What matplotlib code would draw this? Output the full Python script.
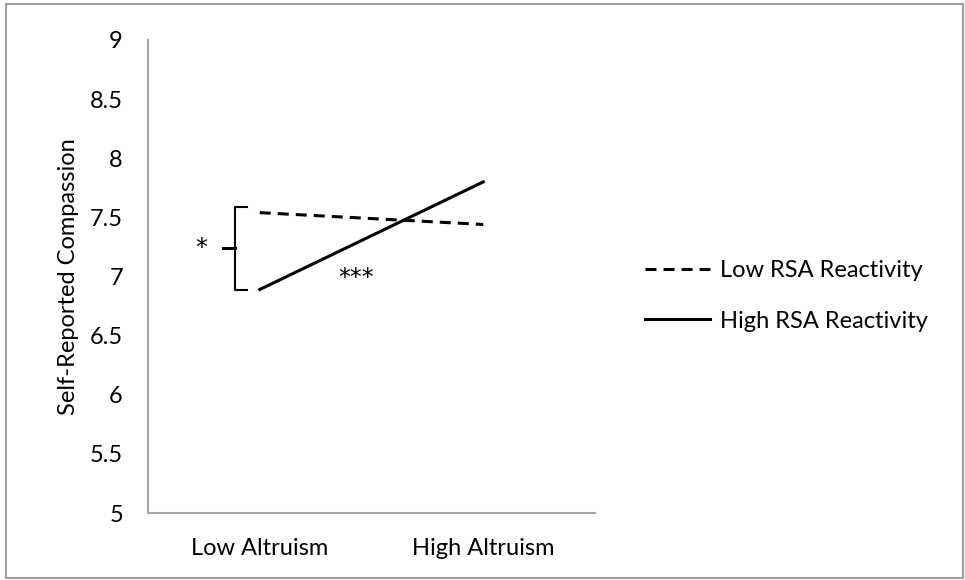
import matplotlib
matplotlib.use("Agg")
import matplotlib.pyplot as plt
from matplotlib.patches import Rectangle

# ── data ──────────────────────────────────────────────────────────────────
categories = ["Low Altruism", "High Altruism"]
low_rsa = [7.54, 7.44]
high_rsa = [6.89, 7.80]
series_names = ["Low RSA Reactivity", "High RSA Reactivity"]
y_ticks = [5, 5.5, 6, 6.5, 7, 7.5, 8, 8.5, 9]
y_tick_labels = ["5", "5.5", "6", "6.5", "7", "7.5", "8", "8.5", "9"]

plt.rcParams["font.family"] = ["Lato", "DejaVu Sans"]
FS = 17
SPINE = "#A6A6A6"

fig = plt.figure(figsize=(9.65, 5.8), dpi=100)
ax = fig.add_axes([148 / 965, 1 - 513 / 580, (595 - 148) / 965, (513 - 40) / 580])

x = list(range(len(categories)))
ax.plot(x, low_rsa, color="black", lw=2.2, dashes=(3.6, 2.3), label=series_names[0])
ax.plot(x, high_rsa, color="black", lw=2.2, label=series_names[1])

ax.set_xlim(-0.5, len(categories) - 0.5)
ax.set_ylim(5, 9)
ax.set_xticks(x)
ax.set_xticklabels(categories, fontsize=FS)
ax.set_yticks(y_ticks)
ax.set_yticklabels(y_tick_labels, fontsize=FS)
ax.tick_params(axis="both", length=0)
ax.tick_params(axis="y", pad=18)
ax.tick_params(axis="x", pad=18)
ax.set_ylabel("Self-Reported Compassion", fontsize=FS, labelpad=8)

for side in ("top", "right"):
    ax.spines[side].set_visible(False)
for side in ("left", "bottom"):
    ax.spines[side].set_color(SPINE)
    ax.spines[side].set_linewidth(1.5)

# ── significance bracket at low altruism ─────────────────────────────────
top, bot = low_rsa[0] + 0.05, high_rsa[0]
mid = (top + bot) / 2
bx, serif, nub = -0.11, -0.057, -0.164
ax.plot([serif, bx, bx, serif], [top, top, bot, bot], color="black", lw=1.5,
        clip_on=False, solid_joinstyle="round")
ax.plot([nub, bx], [mid, mid], color="black", lw=2.2, clip_on=False)
ax.text(-0.26, mid, "*", fontsize=17, family="DejaVu Sans", ha="center", va="center")
ax.text(0.43, 6.99, "***", fontsize=17, family="DejaVu Sans", ha="center", va="center")

# ── legend ────────────────────────────────────────────────────────────────
fig.legend(loc="center left", bbox_to_anchor=(645 / 965, 1 - 296 / 580),
           bbox_transform=fig.transFigure, frameon=False, fontsize=FS,
           handlelength=2.75, handletextpad=0.42, labelspacing=1.25,
           borderpad=0, borderaxespad=0)

# outer border
fig.patches.append(Rectangle((6 / 965, 2 / 580), 957 / 965, 574 / 580,
                             transform=fig.transFigure, fill=False,
                             edgecolor="#A0A0A0", lw=1.5))

fig.savefig("out.png", dpi=100)
